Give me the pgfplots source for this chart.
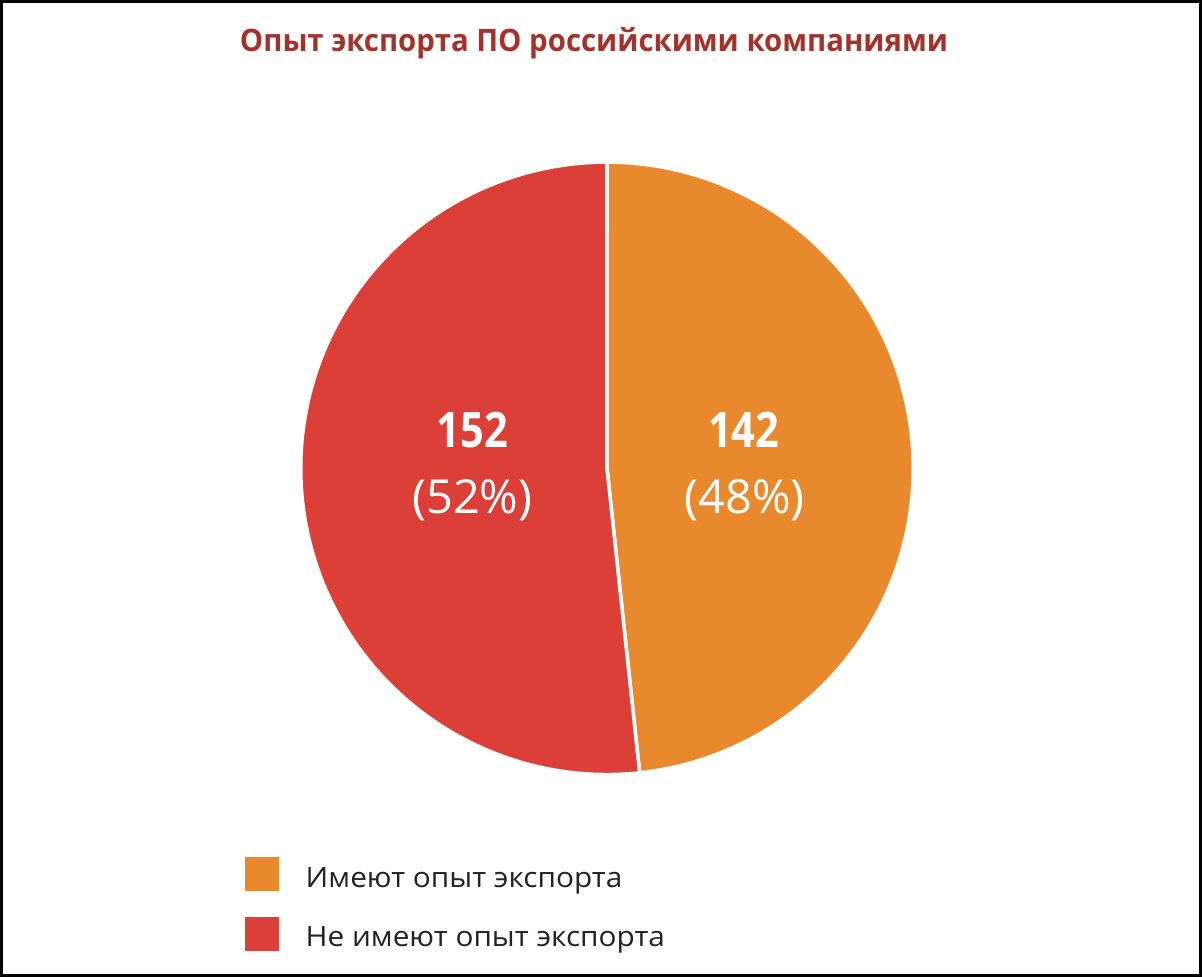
\documentclass[border=0pt]{standalone}
\usepackage{pgfplots}
\pgfplotsset{compat=1.18}
\usepackage{pgfplotstable}
\usepackage{fontspec}
\setmainfont{Open Sans}
\newfontfamily\numfont{Open Sans}[FakeStretch=0.85]
\newfontfamily\legfont{Open Sans}[FakeStretch=1.065]
\newfontfamily\titlefont{Open Sans}[FakeStretch=0.95]
\definecolor{cOrange}{HTML}{E8892E}
\definecolor{cRed}{HTML}{DC3F38}
\definecolor{cTitle}{HTML}{A3332A}
\definecolor{cText}{HTML}{222222}

\pgfplotstableread{
label value
A 142
B 152
}\piedata
\pgfplotstablegetelem{0}{value}\of\piedata \let\vA\pgfplotsretval
\pgfplotstablegetelem{1}{value}\of\piedata \let\vB\pgfplotsretval
\pgfmathsetmacro\aFrac{\vA/(\vA+\vB)}
\pgfmathsetmacro\aEnd{90-360*\aFrac}

\begin{document}
\begin{tikzpicture}
\begin{axis}[
  at={(0,0)}, anchor=south west,
  scale only axis, width=1202pt, height=976pt,
  xmin=0, xmax=1202, ymin=0, ymax=976,
  axis lines=box, ticks=none,
  axis line style={line width=3pt, black},
  clip=false,
  legend image code/.code={\fill[#1,draw=none] (0pt,-13.5pt) rectangle (34pt,20.5pt);},
  legend cell align=left,
  legend style={at={(axis cs:244,118)}, anchor=north west, draw=none, fill=none,
    inner sep=0pt, outer sep=0pt, row sep=26pt, nodes={inner sep=0pt},
    font=\legfont\fontsize{28}{34}\selectfont, text=cText,
    /tikz/every odd column/.append style={column sep=27pt}},
]
\addplot[fill=cOrange, draw=white, line width=3.5pt, line join=round, domain=\aEnd:90, samples=200]
  ({607+307*cos(x)},{508+307*sin(x)}) -- (607,508) -- cycle;
\addlegendentry{Имеют опыт экспорта}
\addplot[fill=cRed, draw=white, line width=3.5pt, line join=round, domain=-270:\aEnd, samples=200]
  ({607+307*cos(x)},{508+307*sin(x)}) -- (607,508) -- cycle;
\addlegendentry{Не имеют опыт экспорта}

\node[anchor=base, font=\titlefont\bfseries\fontsize{31}{36}\selectfont, text=cTitle] at (axis cs:594,926) {Опыт экспорта ПО российскими компаниями};

\node[anchor=base, font=\numfont\bfseries\fontsize{49}{56}\selectfont, text=white] at (axis cs:472,529) {152};
\node[anchor=base, font=\fontsize{47}{54}\selectfont, text=white] at (axis cs:472,463) {(52\%)};
\node[anchor=base, font=\numfont\bfseries\fontsize{49}{56}\selectfont, text=white] at (axis cs:744,529) {142};
\node[anchor=base, font=\fontsize{47}{54}\selectfont, text=white] at (axis cs:745,463) {(48\%)};
\end{axis}
\end{tikzpicture}
\end{document}
